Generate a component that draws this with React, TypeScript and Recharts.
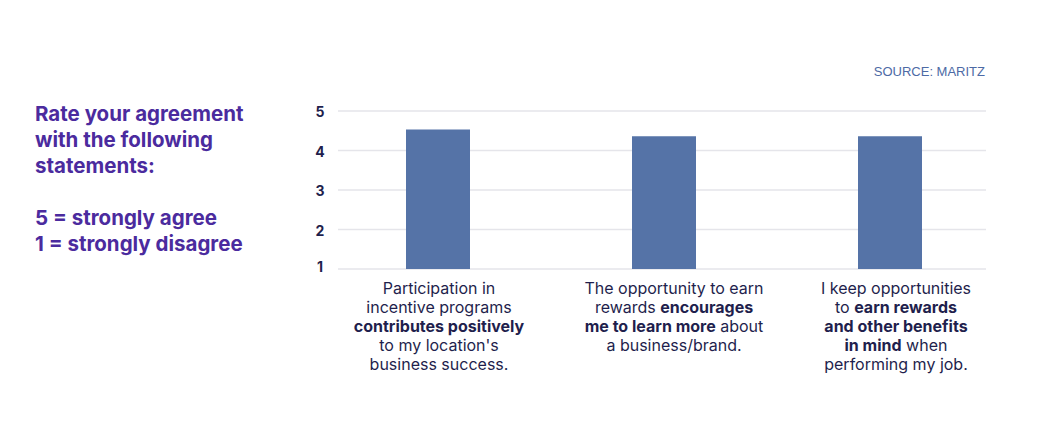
import React from "react";
import { BarChart, Bar, XAxis, YAxis, CartesianGrid } from "recharts";

// statement labels, split into lines; bold parts flagged with b
const categories = ["participation", "opportunity", "keep"];
const labelLines: { t: string; b?: boolean }[][][] = [
  [
    [{ t: "Participation in" }],
    [{ t: "incentive programs" }],
    [{ t: "contributes positively", b: true }],
    [{ t: "to my location's" }],
    [{ t: "business success." }],
  ],
  [
    [{ t: "The opportunity to earn" }],
    [{ t: "rewards " }, { t: "encourages", b: true }],
    [{ t: "me to learn more", b: true }, { t: " about" }],
    [{ t: "a business/brand." }],
  ],
  [
    [{ t: "I keep opportunities" }],
    [{ t: "to " }, { t: "earn rewards", b: true }],
    [{ t: "and other benefits", b: true }],
    [{ t: "in mind", b: true }, { t: " when" }],
    [{ t: "performing my job." }],
  ],
];
const scores = [4.53, 4.36, 4.36];
const yTicks = [1, 2, 3, 4, 5];

const data = categories.map((c, i) => ({ name: c, idx: i, score: scores[i] }));

const NAVY = "#1f1f4d";
const FONT = "Inter, sans-serif";
const labelNudge = [1, 10, 6];

function CatTick({ x, y, index }: any) {
  const lines = labelLines[index] || [];
  const cx = x + (labelNudge[index] || 0);
  return (
    <text x={cx} y={y} textAnchor="middle" fill={NAVY}
      style={{ fontFamily: FONT, fontSize: "16px" }}>
      {lines.map((segs, li) => (
        <tspan key={li} x={cx} dy={li === 0 ? 17 : 19}>
          {segs.map((s, si) => (
            <tspan key={si} fontWeight={s.b ? 700 : 400}>{s.t}</tspan>
          ))}
        </tspan>
      ))}
    </text>
  );
}

function ScoreTick({ y, payload }: any) {
  return (
    <text x={320} y={y} dy={payload.value === 1 ? 3 : 6} textAnchor="middle" fill={NAVY}
      style={{ fontFamily: FONT, fontSize: "14px", fontWeight: 700 }}>
      {payload.value}
    </text>
  );
}

export default function App() {
  return (
    <div style={{ position: "absolute", left: 0, top: 0, width: 1037, height: 442, background: "#fff" }}>
      <div
        style={{
          position: "absolute", left: 35, top: 101, color: "#4b2b9e",
          fontFamily: FONT, fontWeight: 700, fontSize: "20.5px", lineHeight: "26px",
        }}
      >
        <div>Rate your agreement</div>
        <div>with the following</div>
        <div>statements:</div>
        <div>&nbsp;</div>
        <div>5 = strongly agree</div>
        <div>1 = strongly disagree</div>
      </div>
      <div
        style={{
          position: "absolute", right: 52, top: 64, color: "#4d6aa5",
          fontFamily: "'Liberation Sans', Arial, sans-serif", fontSize: "13px",
        }}
      >
        SOURCE: MARITZ
      </div>
      <BarChart
        width={1037}
        height={442}
        data={data}
        margin={{ top: 111, right: 51, left: 308, bottom: 53 }}
      >
        <CartesianGrid vertical={false} stroke="#e5e5ea" strokeWidth={1.5} />
        <XAxis
          dataKey="name"
          axisLine={false}
          tickLine={false}
          interval={0}
          height={120}
          padding={{ left: -13, right: -17 }}
          tick={<CatTick />}
        />
        <YAxis
          domain={[1, 5]}
          ticks={yTicks}
          width={30}
          axisLine={false}
          tickLine={false}
          tick={<ScoreTick />}
        />
        <Bar dataKey="score" fill="#5573a7" barSize={64} isAnimationActive={false} />
      </BarChart>
    </div>
  );
}
